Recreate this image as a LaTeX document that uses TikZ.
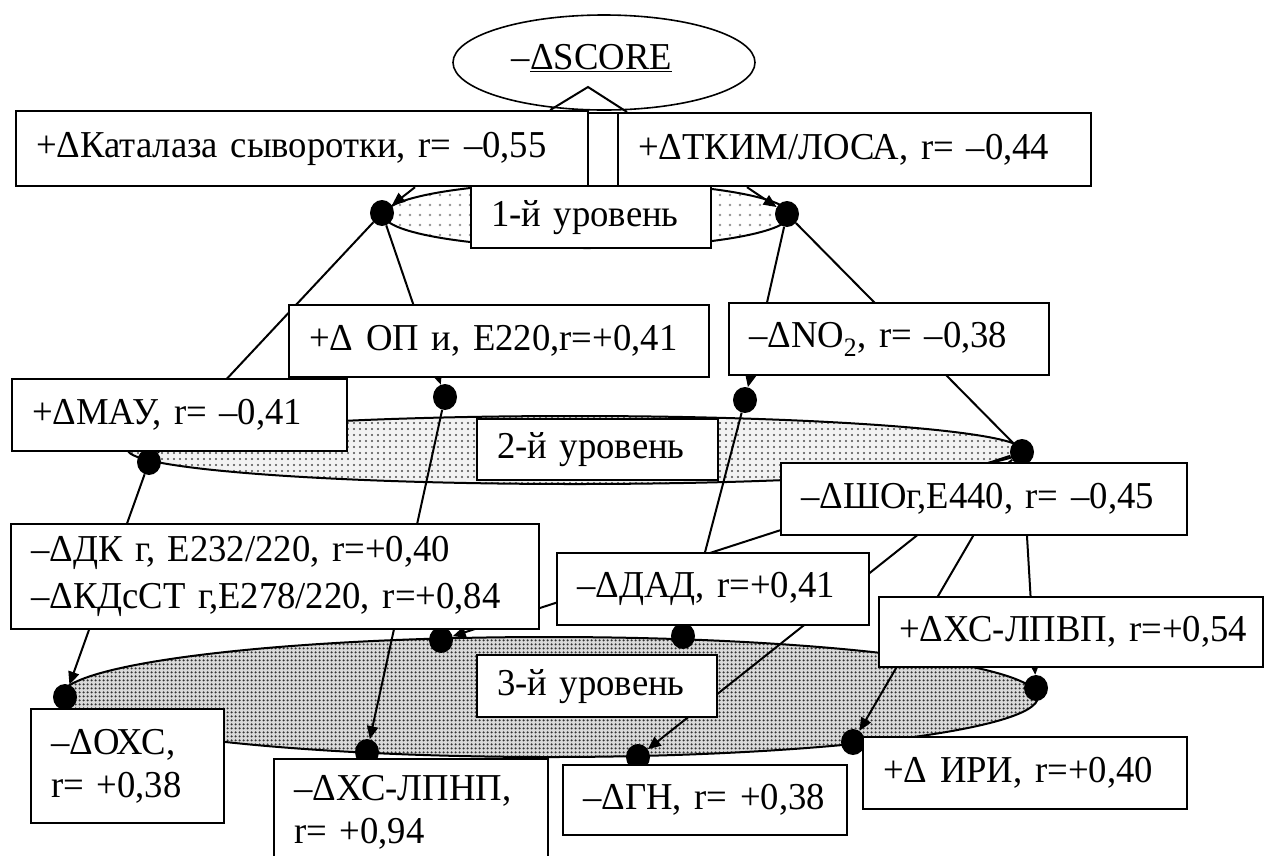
\documentclass[tikz,border=0pt]{standalone}
\usepackage{fontspec}
\setmainfont{Liberation Serif}[WordSpace=0.65, FakeStretch=0.965]
\usetikzlibrary{shapes.geometric, arrows.meta, patterns.meta}
\pgfdeclarelayer{levels}
\pgfdeclarelayer{wires}
\pgfsetlayers{levels,wires,main}

\tikzset{
  box/.style={draw, fill=white, line width=2.2pt, inner xsep=20pt, inner ysep=0pt,
    anchor=north west, align=left, font=\fontsize{38}{45}\selectfont},
  blob/.style={ellipse, fill=black, minimum width=24pt, minimum height=26pt, inner sep=0pt},
  wire/.style={line width=2pt},
  arrowline/.style={wire, -{Triangle[length=13pt,width=11pt]}},
  tier/.style={draw, line width=2pt},
}

\begin{document}
\begin{tikzpicture}[x=1pt, y=-1pt]
\useasboundingbox (0,0) rectangle (1266,855);
\clip (0,0) rectangle (1266,855);

% shaded level ellipses
\begin{pgfonlayer}{levels}
  \draw[tier, pattern={Dots[distance=10pt, radius=1.3pt]}, pattern color=gray!85]
    (587,215) ellipse [x radius=203pt, y radius=33pt];
  \fill[gray!10] (575,450) ellipse [x radius=447pt, y radius=34pt];
  \draw[tier, pattern={Dots[distance=6pt, radius=1.2pt]}, pattern color=black!70]
    (575,450) ellipse [x radius=447pt, y radius=34pt];
  \fill[gray!30] (549,697) ellipse [x radius=489pt, y radius=60pt];
  \draw[tier, pattern={Dots[distance=4pt, radius=1.5pt]}, pattern color=black!80]
    (549,697) ellipse [x radius=489pt, y radius=60pt];
\end{pgfonlayer}

% root
\node[draw, ellipse, line width=1.6pt, minimum width=302pt, minimum height=95pt] (score) at (604,62.5) {};
\node[inner sep=0pt, font=\fontsize{38}{46}\selectfont] (scoretext) at (592,58) {–\underline{ΔSCORE}};
\coordinate (peak) at (588,87);

% junction dots
\node[blob] (d1L) at (382,213) {};
\node[blob] (d1R) at (787,214) {};
\node[blob] (d2L) at (149,462) {};
\node[blob] (d2a) at (445,397) {};
\node[blob] (d2b) at (745,400) {};
\node[blob] (d2R) at (1022,452) {};
\node[blob] (d3a) at (441,640) {};
\node[blob] (d3b) at (683,636) {};
\node[blob] (d3L) at (65,697) {};
\node[blob] (d3c) at (367,752) {};
\node[blob] (d3d) at (638,757) {};
\node[blob] (d3e) at (853,742) {};
\node[blob] (d3R) at (1036,688) {};

% boxes
\node[box, text width=532pt, minimum height=75pt] (A) at (15,110) {\mbox{+ΔКаталаза сыворотки, r= –0,55}};
\node[draw, fill=white, line width=1.6pt, anchor=north west, inner sep=0pt, minimum width=30pt, minimum height=73pt] (gap) at (587,112) {};
\node[box, text width=433pt, minimum height=73pt] (B) at (617,112) {\mbox{+ΔТКИМ/ЛОСА, r= –0,44}};
\node[box, text width=200pt, minimum height=62pt] (L1) at (470,185) {\mbox{1-й уровень}};

\node[box, text width=380pt, minimum height=72pt] (OP) at (288,304) {\mbox{+Δ ОП и, Е220,r=+0,41}};
\node[box, text width=280pt, minimum height=72pt] (NO) at (728,302) {\mbox{–ΔNO\textsubscript{2}, r= –0,38}};
\node[box, text width=295pt, minimum height=72pt] (MAU) at (11,378) {\mbox{+ΔМАУ, r= –0,41}};
\node[box, text width=201pt, minimum height=61pt] (L2) at (476,418) {\mbox{2-й уровень}};
\node[box, text width=366pt, minimum height=72pt] (SHO) at (780,462) {\mbox{–ΔШОг,Е440, r= –0,45}};

\node[box, text width=488pt, minimum height=105pt, font=\fontsize{38}{47}\selectfont] (DK) at (10,523) {\mbox{–ΔДК г, Е232/220, r=+0,40}\\\mbox{–ΔКДсСТ г,Е278/220, r=+0,84}};
\node[box, text width=272pt, minimum height=72pt] (DAD) at (556,552) {\mbox{–ΔДАД, r=+0,41}};
\node[box, text width=344pt, minimum height=70pt] (HDL) at (878,596) {\mbox{+ΔХС-ЛПВП, r=+0,54}};
\node[box, text width=200pt, minimum height=62pt] (L3) at (476,654) {\mbox{3-й уровень}};

\node[box, text width=153pt, minimum height=114pt, font=\fontsize{38}{43}\selectfont] (OXC) at (30,708) {\mbox{–ΔОХС,}\\\mbox{r= +0,38}};
\node[box, text width=234pt, minimum height=106pt, font=\fontsize{38}{43}\selectfont] (LDL) at (273,758) {\mbox{–ΔХС-ЛПНП,}\\\mbox{r= +0,94}};
\node[box, text width=244pt, minimum height=70pt] (GN) at (562,764) {\mbox{–ΔГН, r= +0,38}};
\node[box, text width=284pt, minimum height=72pt] (IRI) at (862,736) {\mbox{+Δ ИРИ, r=+0,40}};

% connectors
\begin{pgfonlayer}{wires}
  \draw[wire] ([xshift=-39pt]A.north east) -- (peak) -- ([xshift=10pt]B.north west);
  \draw[arrowline] ([xshift=400pt]A.south west) -- (d1L);
  \draw[arrowline] ([xshift=130pt]B.south west) -- (d1R);
  \draw[wire] (d1L) -- (d2L);
  \draw[arrowline] (d1L) -- (d2a);
  \draw[arrowline] (d1R) -- (d2b);
  \draw[wire] (d1R) -- (d2R);
  \draw[arrowline] (d2L) -- (d3L);
  \draw[arrowline] (d2a) -- (d3c);
  \draw[wire] (d2b) -- (d3b);
  \draw[arrowline] (d2R) -- (d3a);
  \draw[arrowline] (d2R) -- (d3d);
  \draw[arrowline] (d2R) -- (d3e);
  \draw[arrowline] (d2R) -- (d3R);
\end{pgfonlayer}
\end{tikzpicture}
\end{document}
